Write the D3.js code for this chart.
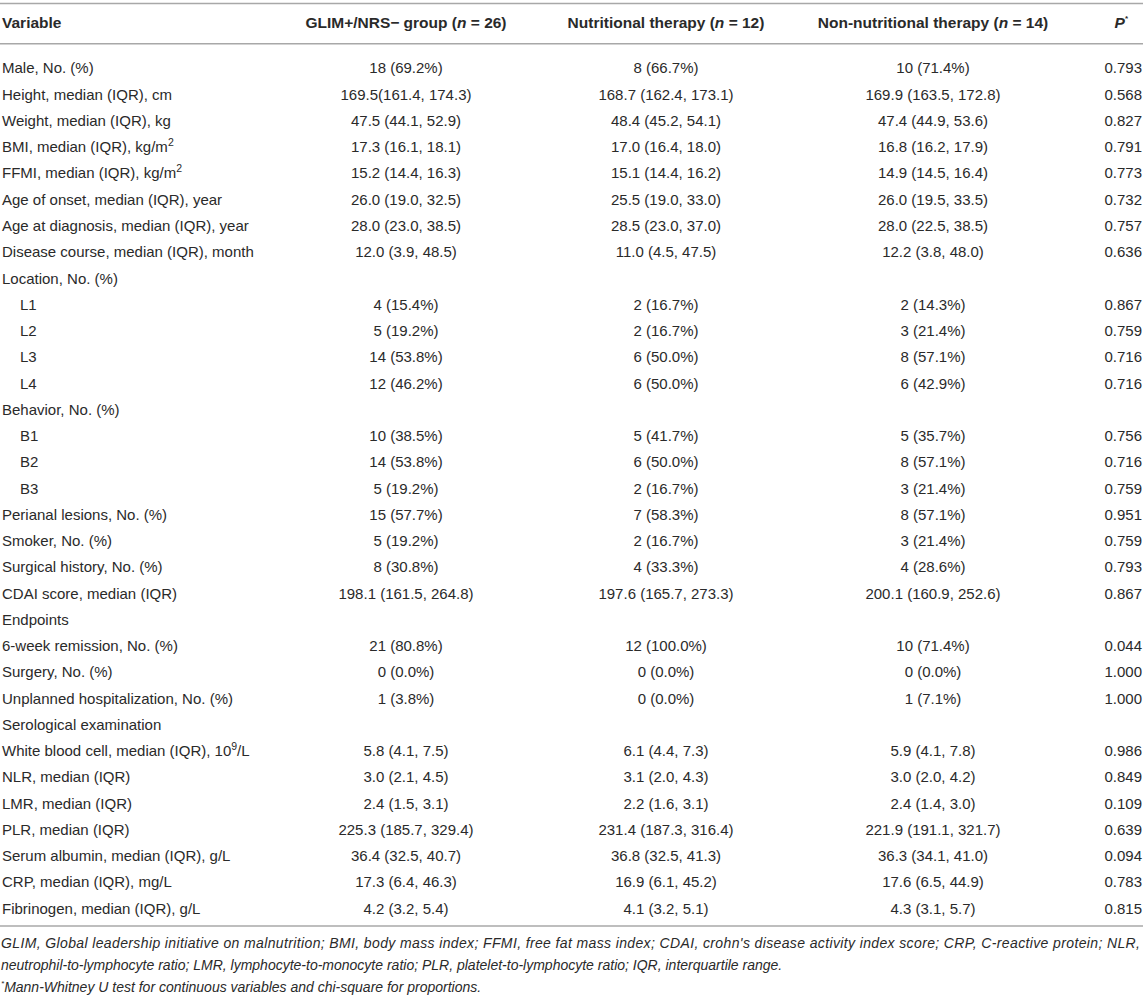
<!DOCTYPE html>
<html>
<head>
<meta charset="utf-8">
<script src="https://cdn.jsdelivr.net/npm/d3@7"></script>
<style>
  body { margin: 0; background: #fff; }
  text { font-family: "Liberation Sans", Arial, sans-serif; fill: #2a2a2a; }
</style>
</head>
<body>
<script>
// table content, one entry per row ("" = empty cell)
var variables = [
  "Male, No. (%)", "Height, median (IQR), cm", "Weight, median (IQR), kg",
  "BMI, median (IQR), kg/m^2", "FFMI, median (IQR), kg/m^2",
  "Age of onset, median (IQR), year", "Age at diagnosis, median (IQR), year",
  "Disease course, median (IQR), month", "Location, No. (%)",
  "  L1", "  L2", "  L3", "  L4", "Behavior, No. (%)", "  B1", "  B2", "  B3",
  "Perianal lesions, No. (%)", "Smoker, No. (%)", "Surgical history, No. (%)",
  "CDAI score, median (IQR)", "Endpoints", "6-week remission, No. (%)",
  "Surgery, No. (%)", "Unplanned hospitalization, No. (%)", "Serological examination",
  "White blood cell, median (IQR), 10^9/L", "NLR, median (IQR)", "LMR, median (IQR)",
  "PLR, median (IQR)", "Serum albumin, median (IQR), g/L", "CRP, median (IQR), mg/L",
  "Fibrinogen, median (IQR), g/L"
];
var glimGroup = [
  "18 (69.2%)", "169.5(161.4, 174.3)", "47.5 (44.1, 52.9)", "17.3 (16.1, 18.1)",
  "15.2 (14.4, 16.3)", "26.0 (19.0, 32.5)", "28.0 (23.0, 38.5)", "12.0 (3.9, 48.5)", "",
  "4 (15.4%)", "5 (19.2%)", "14 (53.8%)", "12 (46.2%)", "",
  "10 (38.5%)", "14 (53.8%)", "5 (19.2%)", "15 (57.7%)", "5 (19.2%)", "8 (30.8%)",
  "198.1 (161.5, 264.8)", "", "21 (80.8%)", "0 (0.0%)", "1 (3.8%)", "",
  "5.8 (4.1, 7.5)", "3.0 (2.1, 4.5)", "2.4 (1.5, 3.1)", "225.3 (185.7, 329.4)",
  "36.4 (32.5, 40.7)", "17.3 (6.4, 46.3)", "4.2 (3.2, 5.4)"
];
var nutritional = [
  "8 (66.7%)", "168.7 (162.4, 173.1)", "48.4 (45.2, 54.1)", "17.0 (16.4, 18.0)",
  "15.1 (14.4, 16.2)", "25.5 (19.0, 33.0)", "28.5 (23.0, 37.0)", "11.0 (4.5, 47.5)", "",
  "2 (16.7%)", "2 (16.7%)", "6 (50.0%)", "6 (50.0%)", "",
  "5 (41.7%)", "6 (50.0%)", "2 (16.7%)", "7 (58.3%)", "2 (16.7%)", "4 (33.3%)",
  "197.6 (165.7, 273.3)", "", "12 (100.0%)", "0 (0.0%)", "0 (0.0%)", "",
  "6.1 (4.4, 7.3)", "3.1 (2.0, 4.3)", "2.2 (1.6, 3.1)", "231.4 (187.3, 316.4)",
  "36.8 (32.5, 41.3)", "16.9 (6.1, 45.2)", "4.1 (3.2, 5.1)"
];
var nonNutritional = [
  "10 (71.4%)", "169.9 (163.5, 172.8)", "47.4 (44.9, 53.6)", "16.8 (16.2, 17.9)",
  "14.9 (14.5, 16.4)", "26.0 (19.5, 33.5)", "28.0 (22.5, 38.5)", "12.2 (3.8, 48.0)", "",
  "2 (14.3%)", "3 (21.4%)", "8 (57.1%)", "6 (42.9%)", "",
  "5 (35.7%)", "8 (57.1%)", "3 (21.4%)", "8 (57.1%)", "3 (21.4%)", "4 (28.6%)",
  "200.1 (160.9, 252.6)", "", "10 (71.4%)", "0 (0.0%)", "1 (7.1%)", "",
  "5.9 (4.1, 7.8)", "3.0 (2.0, 4.2)", "2.4 (1.4, 3.0)", "221.9 (191.1, 321.7)",
  "36.3 (34.1, 41.0)", "17.6 (6.5, 44.9)", "4.3 (3.1, 5.7)"
];
var pValues = [
  "0.793", "0.568", "0.827", "0.791", "0.773", "0.732", "0.757", "0.636", "",
  "0.867", "0.759", "0.716", "0.716", "",
  "0.756", "0.716", "0.759", "0.951", "0.759", "0.793",
  "0.867", "", "0.044", "1.000", "1.000", "",
  "0.986", "0.849", "0.109", "0.639", "0.094", "0.783", "0.815"
];
var columns = ["variable", "glim", "nutr", "nonnutr", "p"];
var footnotes = [
  "GLIM, Global leadership initiative on malnutrition; BMI, body mass index; FFMI, free fat mass index; CDAI, crohn's disease activity index score; CRP, C-reactive protein; NLR,",
  "neutrophil-to-lymphocyte ratio; LMR, lymphocyte-to-monocyte ratio; PLR, platelet-to-lymphocyte ratio; IQR, interquartile range.",
  "Mann-Whitney U test for continuous variables and chi-square for proportions."
];

var width = 1143, height = 1001;
var svg = d3.select("body").append("svg")
  .attr("width", width)
  .attr("height", height);

var rows = variables.map(function(v, i) {
  return { variable: v, glim: glimGroup[i], nutr: nutritional[i], nonnutr: nonNutritional[i], p: pValues[i] };
});

var y = d3.scaleBand()
  .domain(d3.range(rows.length))
  .range([55, 55 + rows.length * 26.26]);

var colX = d3.scaleOrdinal().domain(columns).range([2, 406, 666, 933, 1142]);
var colAnchor = d3.scaleOrdinal().domain(columns).range(["start", "middle", "middle", "middle", "end"]);

// rules
var lines = [3.5, 43.7, 926];
svg.selectAll("line.rule")
  .data(lines)
  .enter()
  .append("line")
  .attr("class", "rule")
  .attr("x1", 0).attr("x2", width)
  .attr("y1", function(d) { return d; })
  .attr("y2", function(d) { return d; })
  .attr("stroke", "#a8a8a8")
  .attr("stroke-width", 1.6);

// header
var header = svg.append("g").attr("font-weight", "bold").attr("font-size", 15.5);
function headCell(col, parts, x) {
  var t = header.append("text")
    .attr("x", x || colX(col))
    .attr("y", 28)
    .attr("text-anchor", colAnchor(col));
  parts.forEach(function(p) {
    var s = t.append("tspan").text(p[0]);
    if (p[1] == "i") s.attr("font-style", "italic");
    if (p[1] == "sup") s.attr("font-size", 8).attr("dy", -7);
  });
}
headCell("variable", [["Variable"]]);
headCell("glim", [["GLIM+/NRS\u2212 group ("], ["n", "i"], [" = 26)"]]);
headCell("nutr", [["Nutritional therapy ("], ["n", "i"], [" = 12)"]]);
headCell("nonnutr", [["Non-nutritional therapy ("], ["n", "i"], [" = 14)"]]);
headCell("p", [["P", "i"], ["*", "sup"]], 1128);

// body
var body = svg.append("g").attr("font-size", 15);
var rowG = body.selectAll("g.row")
  .data(rows)
  .enter()
  .append("g")
  .attr("class", "row")
  .attr("transform", function(d, i) { return "translate(0," + (y(i) + y.bandwidth() / 2 + 5.3) + ")"; });

columns.forEach(function(col) {
  rowG.append("text")
    .attr("x", function(d) {
      return col == "variable" && d.variable.indexOf("  ") == 0 ? colX(col) + 18 : colX(col);
    })
    .attr("text-anchor", colAnchor(col))
    .each(function(d) {
      var s = d[col].trim();
      var el = d3.select(this);
      var k = s.indexOf("^");
      if (k < 0) { el.text(s); return; }
      var rest = s.slice(k + 1);
      var supLen = rest.match(/^\d+/)[0].length;
      el.append("tspan").text(s.slice(0, k));
      el.append("tspan").attr("font-size", 10.5).attr("dy", -6).text(rest.slice(0, supLen));
      el.append("tspan").attr("dy", 6).text(rest.slice(supLen));
    });
});

// footnotes
var foot = svg.append("g").attr("font-size", 14).attr("font-style", "italic");
foot.append("text").attr("x", 1).attr("y", 948)
  .attr("textLength", 1139).attr("lengthAdjust", "spacing")
  .text(footnotes[0]);
foot.append("text").attr("x", 1).attr("y", 970)
  .text(footnotes[1]);
var f3 = foot.append("text").attr("x", 1).attr("y", 992);
f3.append("tspan").attr("font-size", 8).attr("dy", -6).text("*");
f3.append("tspan").attr("dy", 6).text(footnotes[2]);
</script>
</body>
</html>
